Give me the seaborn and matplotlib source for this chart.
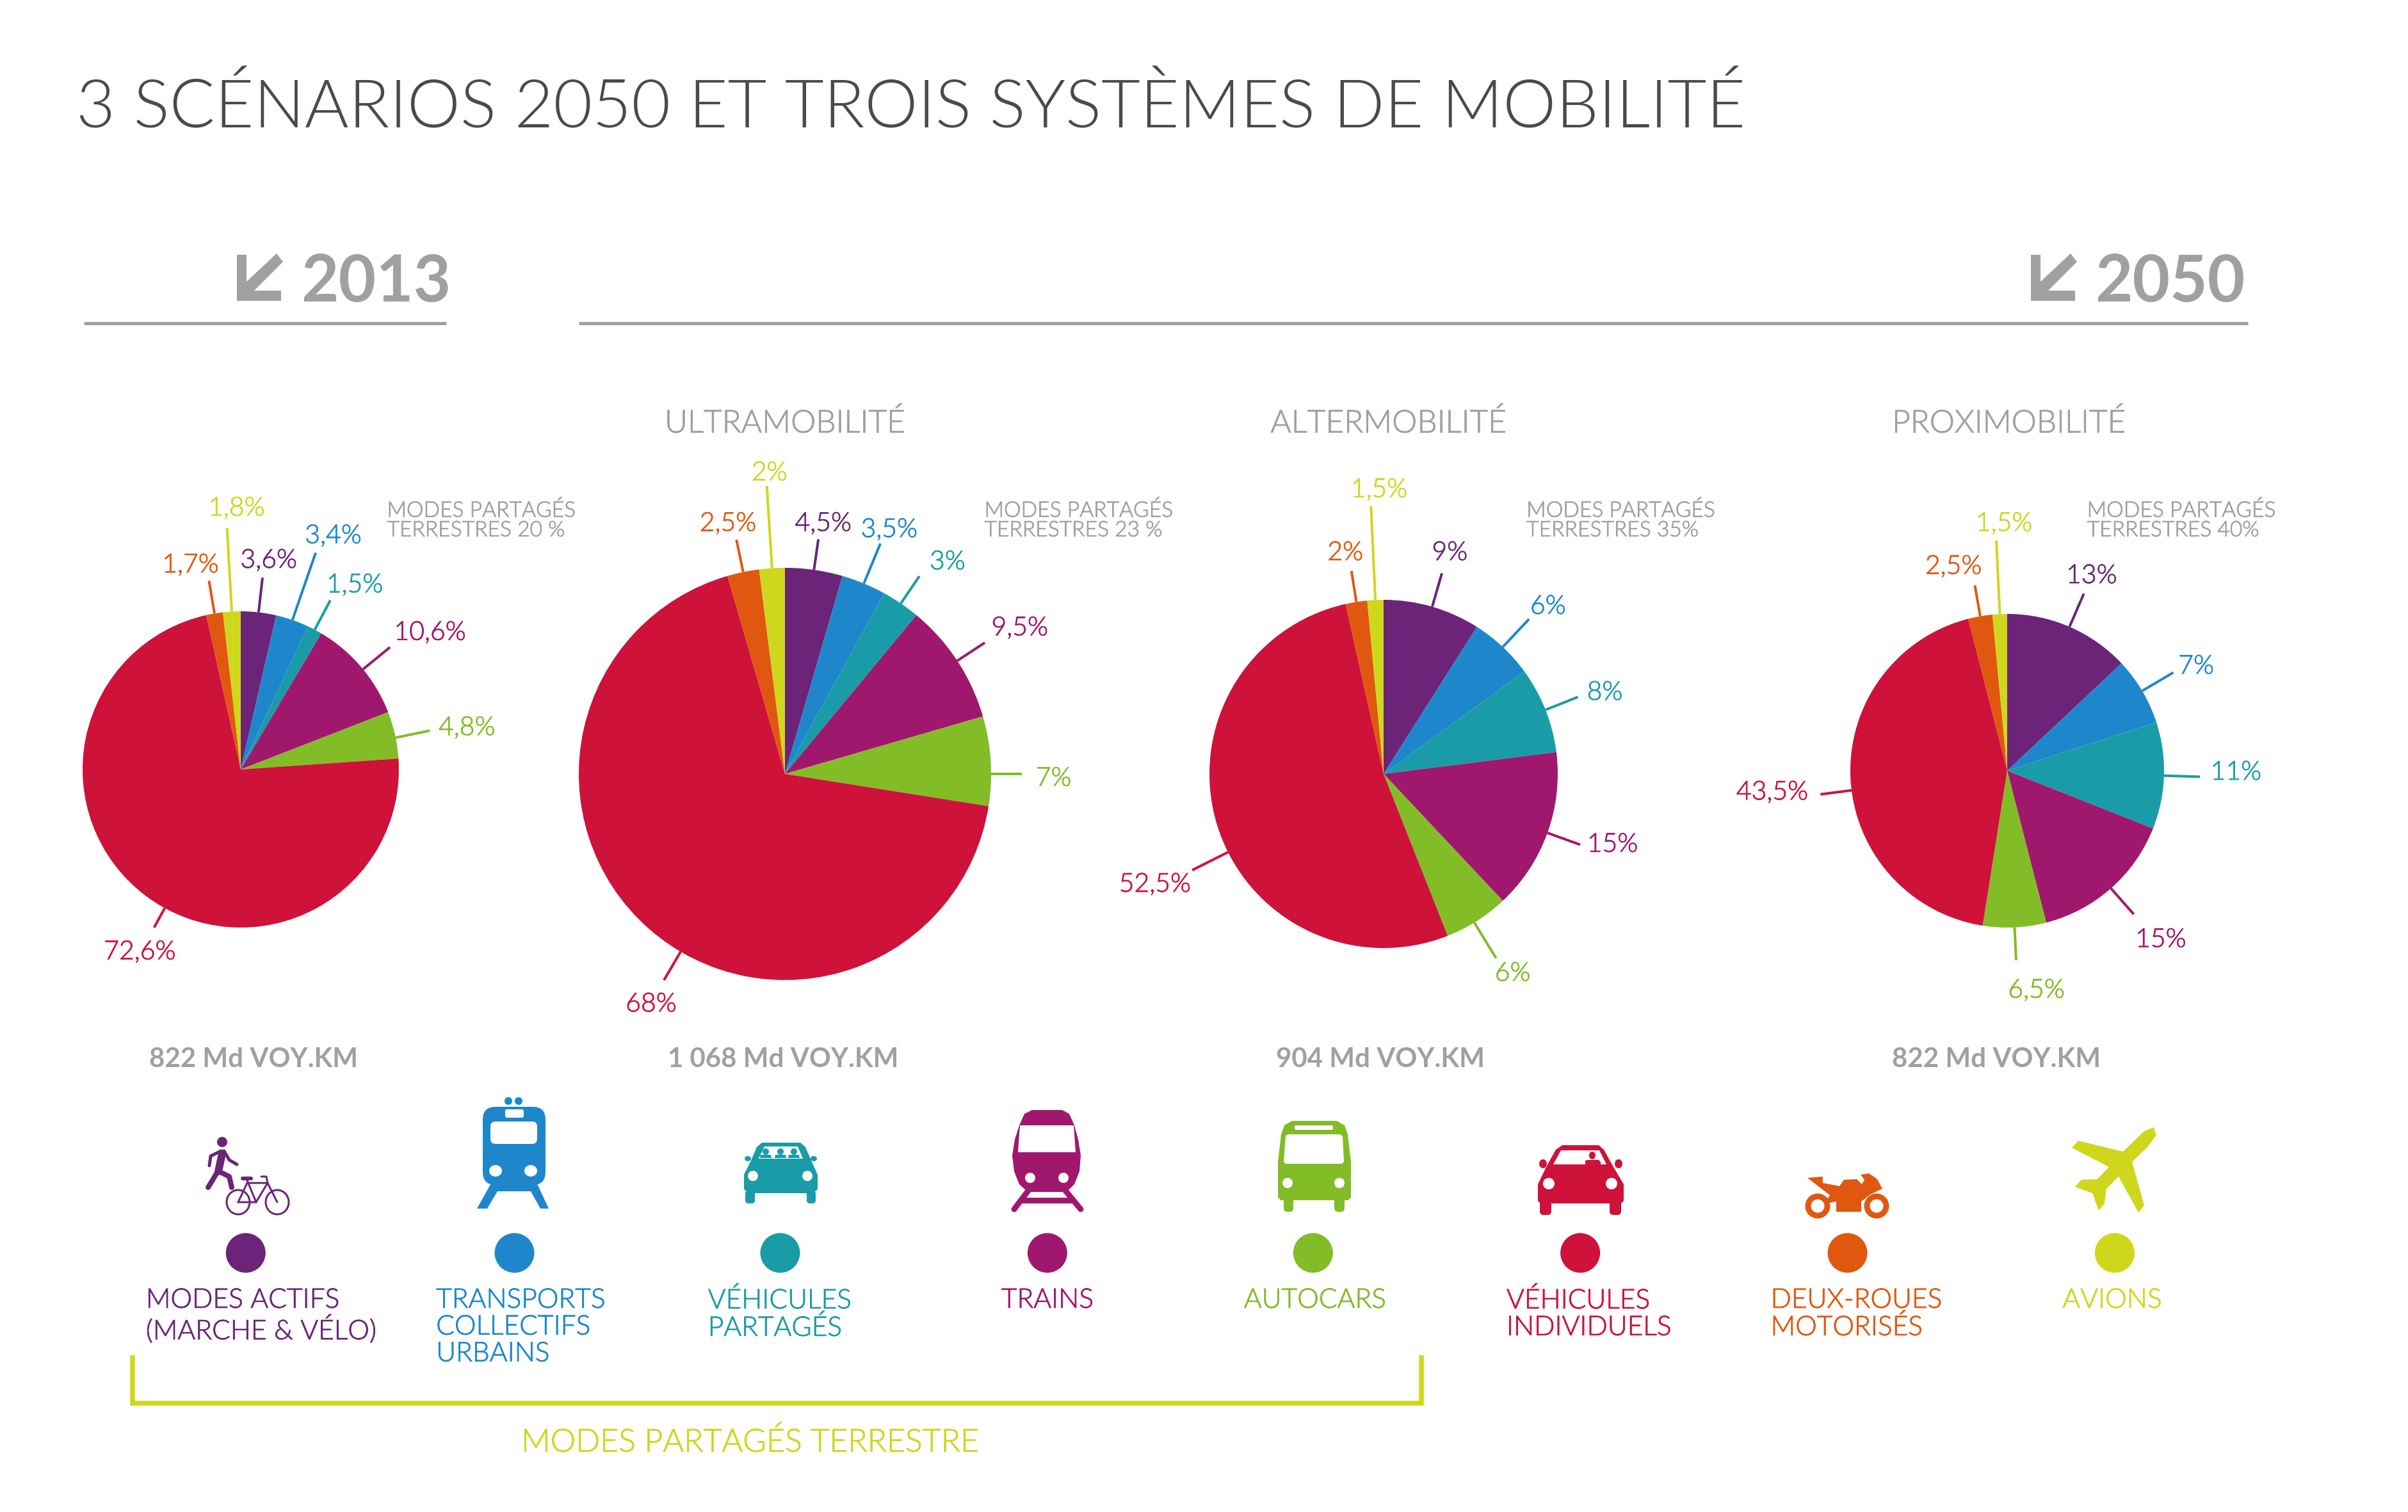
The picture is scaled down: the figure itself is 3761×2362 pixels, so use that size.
import matplotlib
matplotlib.use("Agg")
import numpy as np
import pandas as pd
import matplotlib.pyplot as plt
from matplotlib import font_manager as fm
from matplotlib.patheffects import withStroke
from matplotlib.patches import Polygon, Ellipse, FancyBboxPatch
import seaborn as sns

# ---------- data ----------
modes = ["MODES ACTIFS\n(MARCHE & VÉLO)", "TRANSPORTS\nCOLLECTIFS\nURBAINS", "VÉHICULES\nPARTAGÉS", "TRAINS",
         "AUTOCARS", "VÉHICULES\nINDIVIDUELS", "DEUX-ROUES\nMOTORISÉS", "AVIONS"]
colors_hex = ["#6B2478", "#1E87CC", "#1A9CA8", "#A0186E", "#82BC27", "#CE1239", "#E05810", "#CFD71C"]
share_2013 = [3.6, 3.4, 1.5, 10.6, 4.8, 72.6, 1.7, 1.8]
share_ultra = [4.5, 3.5, 3, 9.5, 7, 68, 2.5, 2]
share_alter = [9, 6, 8, 15, 6, 52.5, 2, 1.5]
share_proxi = [13, 7, 11, 15, 6.5, 43.5, 2.5, 1.5]
labels_2013 = ["3,6%", "3,4%", "1,5%", "10,6%", "4,8%", "72,6%", "1,7%", "1,8%"]
labels_ultra = ["4,5%", "3,5%", "3%", "9,5%", "7%", "68%", "2,5%", "2%"]
labels_alter = ["9%", "6%", "8%", "15%", "6%", "52,5%", "2%", "1,5%"]
labels_proxi = ["13%", "7%", "11%", "15%", "6,5%", "43,5%", "2,5%", "1,5%"]
totals = ["822 Md VOY.KM", "1 068 Md VOY.KM", "904 Md VOY.KM", "822 Md VOY.KM"]
scenarios = ["ULTRAMOBILITÉ", "ALTERMOBILITÉ", "PROXIMOBILITÉ"]
shared_notes = ["MODES PARTAGÉS\nTERRESTRES 20 %", "MODES PARTAGÉS\nTERRESTRES 23 %",
                "MODES PARTAGÉS\nTERRESTRES 35%", "MODES PARTAGÉS\nTERRESTRES 40%"]

# ---------- layout (full-size pixels; k converts from the shrunk view) ----------
W, H = 3761, 2362
k = W / 1568
pie_layout = [(376, 1202, 247), (1226, 1209, 322), (2161, 1209, 272), (3135, 1204, 245)]
leader_len = [[1.22, 1.45, 1.21, 1.22, 1.22, 1.14, 1.21, 1.53],
              [1.15, 1.21, 1.16, 1.16, 1.15, 1.16, 1.16, 1.40],
              [1.20, 1.22, 1.20, 1.20, 1.24, 1.23, 1.18, 1.54],
              [1.23, 1.23, 1.23, 1.22, 1.21, 1.20, 1.20, 1.47]]
leader_turn = [[0, 0, 0, 1, 1, -8, 0, 0],
               [0, 0, 0, 0, 3.6, -11, 0, 0],
               [0, 0, 0, 0, 1, -9.6, 0, 0],
               [0, 0, 0, 0, 0, -4.5, 0, 0]]
label_pos = [[(175, 364), (217, 348), (231, 380), (280, 411), (304, 473), (91, 619), (124, 367), (154, 330)],
             [(536, 340), (579, 344), (617, 365), (664, 408), (686, 506), (424, 653), (474, 340), (501, 307)],
             [(944, 359), (1008, 394), (1045, 450), (1050, 549), (985, 633), (752, 575), (876, 359), (898, 318)],
             [(1362, 374), (1430, 433), (1456, 502), (1407, 611), (1326, 644), (1154, 515), (1272, 368), (1305, 340)]]
note_x = [252, 641, 994, 1359]
total_x = [165, 510, 899, 1300]
scenario_x = [511, 904, 1308]
dot_x = [160, 335, 508, 682, 855, 1029, 1203, 1377]
mode_label_x = [95, 284, 461, 652, 810, 981, 1153, 1343]

# ---------- theme ----------
sns.set_theme(style="white")
plt.rcParams["font.family"] = ["Lato", "DejaVu Sans"]
palette = sns.color_palette(colors_hex)
GREY = "#A0A0A0"


def light_font(size):
    """Lato Light by file when present, so that the Hairline cut is not picked."""
    for path in fm.findSystemFonts():
        if path.rsplit("/", 1)[-1] == "Lato-Light.ttf":
            return fm.FontProperties(fname=path, size=size)
    return fm.FontProperties(family="Lato", weight="normal", size=size)


def firm(c):
    return [withStroke(linewidth=0.8, foreground=c)]


fig = plt.figure(figsize=(W / 72, H / 72), dpi=72, facecolor="white")
ov = fig.add_axes([0, 0, 1, 1])
ov.set_xlim(0, W)
ov.set_ylim(H, 0)
ov.set_axis_off()


def poly(pts, c, z=3):
    ov.add_patch(Polygon(pts, closed=True, fc=c, ec="none", zorder=z))


def ell(x, y, rx, ry, c, z=4, fill=True, lw=0):
    ov.add_patch(Ellipse((x, y), 2 * rx, 2 * ry, fc=c if fill else "none", ec=c if not fill else "none",
                         lw=lw, zorder=z))


def rrect(x0, y0, x1, y1, rad, c, z=3):
    ov.add_patch(FancyBboxPatch((x0 + rad, y0 + rad), x1 - x0 - 2 * rad, y1 - y0 - 2 * rad,
                                boxstyle=f"round,pad={rad}", fc=c, ec="none", zorder=z))


def seg(pts, c, lw, z=3):
    xs, ys = zip(*pts)
    ov.plot(xs, ys, color=c, lw=lw, solid_capstyle="round", solid_joinstyle="round", zorder=z)


def corner_arrow(x0, y0, c):
    poly([(x0, y0 + 2), (x0 + 15, y0 + 2), (x0 + 15, y0 + 44), (x0 + 62, y0 - 0), (x0 + 72, y0 + 13),
          (x0 + 27, y0 + 58), (x0 + 69, y0 + 58), (x0 + 69, y0 + 74), (x0, y0 + 74)], c)


# ---------- texts and rules ----------
ov.text(119, 170, "3 SCÉNARIOS 2050 ET TROIS SYSTÈMES DE MOBILITÉ", fontproperties=light_font(105),
        color="#4A4A4A", va="center", ha="left")
corner_arrow(370, 396, GREY)
ov.text(470, 442, "2013", fontsize=101, fontweight="bold", color=GREY, va="center", ha="left")
corner_arrow(3172, 396, GREY)
ov.text(3272, 442, "2050", fontsize=101, fontweight="bold", color=GREY, va="center", ha="left")
ov.plot([131, 697], [505, 505], color=GREY, lw=5, solid_capstyle="butt")
ov.plot([904, 3511], [505, 505], color=GREY, lw=5, solid_capstyle="butt")

for name, x in zip(scenarios, scenario_x):
    ov.text(x * k, 276 * k, name, fontproperties=light_font(49.5), color=GREY, ha="center", va="center",
            path_effects=firm(GREY))
for note, x in zip(shared_notes, note_x):
    ov.text(x * k, 339 * k, note, fontproperties=light_font(33.6), color=GREY, ha="left", va="center",
            linespacing=1.02, path_effects=firm(GREY))
for total, x in zip(totals, total_x):
    ov.text(x * k, 690 * k, total, fontsize=42, fontweight="bold", color=GREY, ha="center", va="center")

# ---------- pies ----------
shares = [share_2013, share_ultra, share_alter, share_proxi]
labels = [labels_2013, labels_ultra, labels_alter, labels_proxi]
for i, (cx, cy, r) in enumerate(pie_layout):
    ax = fig.add_axes([(cx - r) / W, 1 - (cy + r) / H, 2 * r / W, 2 * r / H])
    wedges, _ = ax.pie(shares[i], colors=palette, startangle=90, counterclock=False, radius=1,
                       wedgeprops={"linewidth": 0})
    ax.set_xlim(-1, 1)
    ax.set_ylim(-1, 1)
    ax.set_axis_off()
    for j, w in enumerate(wedges):
        ang = np.deg2rad((w.theta1 + w.theta2) / 2 - leader_turn[i][j])
        ext = leader_len[i][j]
        ax.plot([np.cos(ang), ext * np.cos(ang)], [np.sin(ang), ext * np.sin(ang)],
                color=colors_hex[j], lw=4, clip_on=False, solid_capstyle="butt")
        lx, ly = label_pos[i][j]
        ov.text(lx * k, (ly + 1) * k, labels[i][j], fontproperties=light_font(41), color=colors_hex[j],
                ha="center", va="center", path_effects=firm(colors_hex[j]))

# ---------- legend dots and labels ----------
legend_df = pd.DataFrame({"mode": modes, "x": [x * k for x in dot_x], "y": [816 * k] * len(modes)})
sns.scatterplot(data=legend_df, x="x", y="y", hue="mode", palette=colors_hex, s=62 ** 2, linewidth=0,
                legend=False, ax=ov, zorder=4)
ov.set_xlabel("")
ov.set_ylabel("")
ov.set_xlim(0, W)
ov.set_ylim(H, 0)
for name, x, c in zip(modes, mode_label_x, colors_hex):
    ov.text(x * k, 2012, name, fontproperties=light_font(42.5), color=c, ha="left", va="top", linespacing=1.09,
            path_effects=firm(c))

# bracket
seg([(207, 2117), (207, 2192), (2220, 2192), (2220, 2117)], colors_hex[7], 7.5)
ov.lines[-1].set_solid_capstyle("butt")
ov.lines[-1].set_solid_joinstyle("miter")
ov.text(1172, 2254, "MODES PARTAGÉS TERRESTRE", fontproperties=light_font(50), color=colors_hex[7],
        ha="center", va="center", path_effects=firm(colors_hex[7]))

# ---------- pictograms ----------
WHITE = "white"
# walker and bicycle
c = colors_hex[0]
ell(347, 1784, 8, 8, c)
seg([(347, 1802), (341, 1830)], c, 12)
seg([(345, 1798), (329, 1806), (327, 1821)], c, 5)
seg([(350, 1798), (358, 1812), (370, 1819)], c, 5)
seg([(340, 1830), (333, 1842), (325, 1855)], c, 8)
seg([(342, 1830), (358, 1838), (362, 1855)], c, 8)
ell(372, 1878, 18, 19, c, fill=False, lw=3)
ell(433, 1878, 18, 19, c, fill=False, lw=3)
seg([(372, 1878), (386, 1848), (418, 1848), (433, 1878)], c, 3)
seg([(372, 1878), (400, 1878), (386, 1844)], c, 3)
seg([(400, 1878), (418, 1848), (416, 1838), (408, 1838)], c, 3)
seg([(379, 1841), (392, 1841)], c, 6)

# tram
c = colors_hex[1]
ell(794, 1720, 6, 6, c)
ell(810, 1720, 6, 6, c)
rrect(754, 1729, 852, 1851, 20, c)
poly([(769, 1845), (837, 1845), (857, 1888), (844, 1888), (829, 1861), (777, 1861), (761, 1888), (745, 1888)], c)
rrect(789, 1733, 818, 1746, 3, WHITE, 4)
rrect(766, 1752, 839, 1787, 8, WHITE, 4)
ell(774, 1829, 10, 9, WHITE)
ell(829, 1829, 10, 9, WHITE)

# shared car
c = colors_hex[2]
poly([(1190, 1785), (1250, 1785), (1258, 1792), (1268, 1815), (1277, 1835), (1277, 1858), (1270, 1864),
      (1170, 1864), (1162, 1858), (1162, 1835), (1172, 1815), (1182, 1792)], c)
rrect(1164, 1860, 1179, 1880, 5, c)
rrect(1260, 1860, 1274, 1880, 5, c)
ell(1168, 1810, 5, 4, c)
ell(1271, 1810, 5, 4, c)
poly([(1194, 1791), (1246, 1791), (1254, 1810), (1185, 1810)], WHITE, 4)
for x in (1196, 1219, 1240):
    ell(x, 1799, 5, 5, c, z=5)
    poly([(x - 9, 1809), (x - 8, 1804), (x + 8, 1804), (x + 9, 1809)], c, 5)
ell(1176, 1837, 8, 8, WHITE)
ell(1261, 1837, 8, 8, WHITE)

# train
c = colors_hex[3]
poly([(1612, 1734), (1659, 1734), (1670, 1740), (1678, 1758), (1684, 1780), (1688, 1805), (1686, 1830), (1678, 1850),
      (1666, 1862), (1605, 1862), (1592, 1850), (1584, 1830), (1581, 1805), (1585, 1780), (1592, 1758), (1600, 1740)], c)
poly([(1593, 1758), (1677, 1758), (1680, 1800), (1590, 1800)], WHITE, 4)
ell(1609, 1840, 8, 8, WHITE)
ell(1661, 1840, 8, 8, WHITE)
seg([(1606, 1860), (1584, 1889)], c, 9)
seg([(1664, 1860), (1688, 1889)], c, 9)
poly([(1594, 1871), (1676, 1871), (1680, 1880), (1590, 1880)], c)

# coach
c = colors_hex[4]
poly([(2018, 1751), (2088, 1751), (2100, 1758), (2105, 1772), (2110, 1815), (2110, 1870), (2106, 1875),
      (2000, 1875), (1996, 1870), (1996, 1815), (2001, 1772), (2006, 1758)], c)
rrect(2005, 1870, 2020, 1893, 6, c)
rrect(2084, 1870, 2100, 1893, 6, c)
rrect(2022, 1758, 2082, 1765, 2, WHITE, 4)
poly([(2011, 1772), (2093, 1772), (2097, 1775), (2099, 1815), (2096, 1818), (2008, 1818), (2005, 1815), (2008, 1775)],
     WHITE, 4)
ell(2011, 1848, 8, 8, WHITE)
ell(2092, 1848, 8, 8, WHITE)

# private car
c = colors_hex[5]
poly([(2440, 1789), (2497, 1789), (2505, 1796), (2520, 1823), (2536, 1850), (2536, 1876), (2532, 1880),
      (2406, 1880), (2402, 1876), (2402, 1850), (2415, 1823), (2430, 1796)], c)
rrect(2405, 1875, 2423, 1898, 6, c)
rrect(2514, 1875, 2532, 1898, 6, c)
ell(2410, 1818, 6, 7, c)
ell(2528, 1818, 6, 7, c)
poly([(2438, 1797), (2498, 1797), (2509, 1819), (2426, 1819)], WHITE, 4)
ell(2487, 1805, 5, 6, c, z=5)
poly([(2476, 1819), (2476, 1813), (2480, 1812), (2497, 1812), (2500, 1815), (2500, 1819)], c, 5)
ell(2419, 1849, 9, 9, WHITE)
ell(2517, 1849, 9, 9, WHITE)

# motorbike
c = colors_hex[6]
for x in (2839, 2931):
    ell(x, 1884, 15, 15, c, fill=False, lw=9)
poly([(2823, 1840), (2847, 1838), (2847, 1848), (2873, 1853), (2880, 1843), (2900, 1842), (2908, 1850),
      (2912, 1843), (2906, 1835), (2919, 1833), (2932, 1842), (2940, 1857), (2921, 1866), (2907, 1877),
      (2907, 1893), (2868, 1893), (2868, 1877), (2850, 1880), (2858, 1867)], c)

# plane
poly([(3364, 1761), (3368, 1773), (3354, 1792), (3330, 1815), (3349, 1883), (3340, 1894), (3309, 1838),
      (3290, 1857), (3287, 1880), (3278, 1891), (3268, 1864), (3241, 1854), (3251, 1843), (3276, 1842),
      (3294, 1823), (3236, 1793), (3246, 1782), (3316, 1799), (3349, 1767)], colors_hex[7])

fig.savefig("out.png", dpi=72, facecolor="white")
